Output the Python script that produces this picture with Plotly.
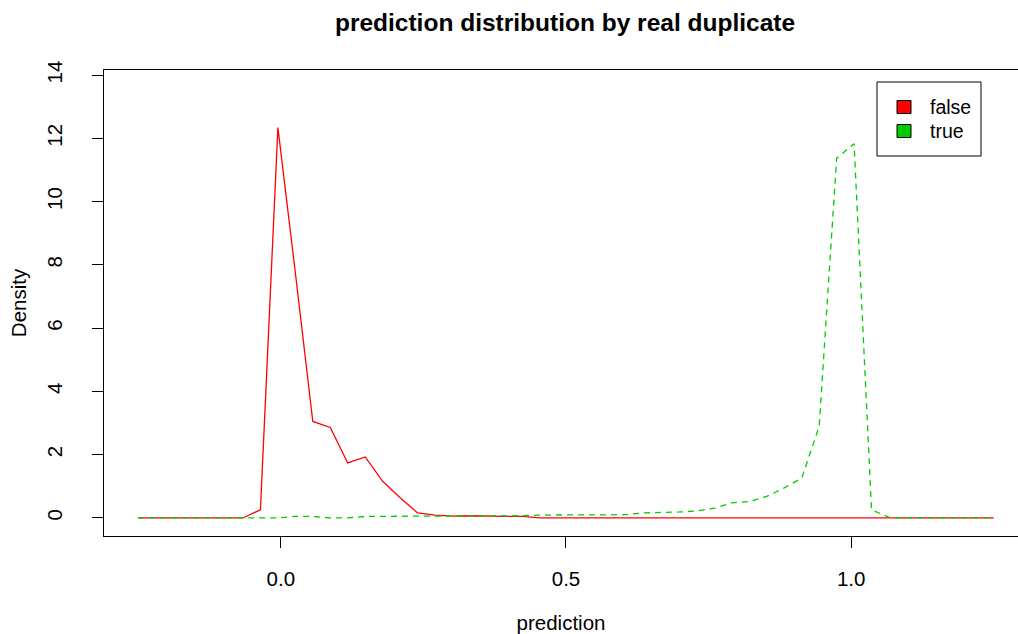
import plotly.graph_objects as go

# ---- data ----
prediction_grid = [
    -0.25, -0.2194, -0.1888, -0.1582, -0.1276, -0.0969, -0.0663, -0.0357, -0.0051, 0.0255,
    0.0561, 0.0867, 0.1173, 0.1480, 0.1786, 0.2092, 0.2398, 0.2704, 0.3010, 0.3316,
    0.3622, 0.3929, 0.4235, 0.4541, 0.4847, 0.5153, 0.5459, 0.5765, 0.6071, 0.6378,
    0.6684, 0.6990, 0.7296, 0.7602, 0.7908, 0.8214, 0.8520, 0.8827, 0.9133, 0.9439,
    0.9745, 1.0051, 1.0357, 1.0663, 1.0969, 1.1276, 1.1582, 1.1888, 1.2194, 1.25,
]

density_false = [
    0, 0, 0, 0, 0, 0, 0, 0.26, 12.34, 7.75,
    3.05, 2.86, 1.74, 1.93, 1.16, 0.64, 0.16, 0.09, 0.06, 0.07,
    0.05, 0.05, 0.05, 0, 0, 0, 0, 0, 0, 0,
    0, 0, 0, 0, 0, 0, 0, 0, 0, 0,
    0, 0, 0, 0, 0, 0, 0, 0, 0, 0,
]

density_true = [
    0, 0, 0, 0, 0, 0, 0, 0, 0, 0.05,
    0.05, 0, 0, 0.05, 0.05, 0.05, 0.05, 0.05, 0.05, 0.05,
    0.05, 0.05, 0.07, 0.09, 0.10, 0.10, 0.10, 0.10, 0.11, 0.16,
    0.17, 0.19, 0.22, 0.31, 0.48, 0.52, 0.68, 0.95, 1.26, 2.89,
    11.37, 11.83, 0.26, 0.02, 0, 0, 0, 0, 0, 0,
]

series_names = ["false", "true"]
series_colors = ["#FF0000", "#00CD00"]
x_tick_vals = [0.0, 0.5, 1.0]
x_tick_text = ["0.0", "0.5", "1.0"]
y_tick_vals = [0, 2, 4, 6, 8, 10, 12, 14]
y_tick_text = ["0", "2", "4", "6", "8", "10", "12", "14"]

FONT = "Liberation Sans, Arial, Helvetica, sans-serif"
W, H = 1018, 634
ML, MR, MT, MB = 104, 0, 70, 98
PW, PH = W - ML - MR, H - MT - MB


def px_x(px):
    return (px - ML) / PW


def px_y(py):
    return (H - MB - py) / PH


fig = go.Figure()
fig.add_trace(go.Scatter(
    x=prediction_grid, y=density_false, mode="lines", name=series_names[0],
    line=dict(color=series_colors[0], width=1.3), showlegend=False,
))
fig.add_trace(go.Scatter(
    x=prediction_grid, y=density_true, mode="lines", name=series_names[1],
    line=dict(color=series_colors[1], width=1.3, dash="6px,5px"), showlegend=False,
))

# legend drawn in R style: framed box with filled squares
shapes = [
    dict(type="rect", xref="paper", yref="paper",
         x0=px_x(877), x1=px_x(981), y0=px_y(156), y1=px_y(82),
         line=dict(color="black", width=1), fillcolor="white", layer="above"),
]
annotations = []
row_centers = [107, 131]
for name, color, cy in zip(series_names, series_colors, row_centers):
    shapes.append(dict(type="rect", xref="paper", yref="paper",
                       x0=px_x(897), x1=px_x(911), y0=px_y(cy + 6.5), y1=px_y(cy - 6.5),
                       line=dict(color="black", width=1), fillcolor=color, layer="above"))
    annotations.append(dict(text=name, xref="paper", yref="paper",
                            x=px_x(928), y=px_y(cy), xanchor="left", yanchor="middle",
                            showarrow=False, font=dict(family=FONT, size=19.5, color="black")))

fig.update_layout(
    width=W, height=H,
    margin=dict(l=ML, r=MR, t=MT, b=MB, pad=0),
    paper_bgcolor="white", plot_bgcolor="white",
    showlegend=False,
    font=dict(family=FONT, size=20.5, color="black"),
    title=dict(text="<b>prediction distribution by real duplicate</b>",
               x=565 / W, xanchor="center", y=1 - 22 / H, yanchor="middle",
               font=dict(family=FONT, size=24.5, color="black")),
    xaxis=dict(range=[-0.31, 1.2925], tickmode="array", tickvals=x_tick_vals, ticktext=x_tick_text,
               ticks="outside", ticklen=11, tickcolor="black", tickwidth=1,
               ticklabelstandoff=13, tickfont=dict(size=20.5),
               showline=True, linecolor="black", linewidth=1, mirror=True,
               showgrid=False, zeroline=False,
               title=dict(text="prediction", standoff=30, font=dict(size=20.5))),
    yaxis=dict(range=[-0.57, 14.16], tickmode="array", tickvals=y_tick_vals, ticktext=y_tick_text,
               ticks="outside", ticklen=11, tickcolor="black", tickwidth=1, tickangle=-90,
               ticklabelstandoff=22, tickfont=dict(size=20.5),
               showline=True, linecolor="black", linewidth=1,
               showgrid=False, zeroline=False,
               title=dict(text="Density", standoff=10, font=dict(size=20.5))),
    shapes=shapes,
    annotations=annotations,
)

fig.write_html("out.html")
